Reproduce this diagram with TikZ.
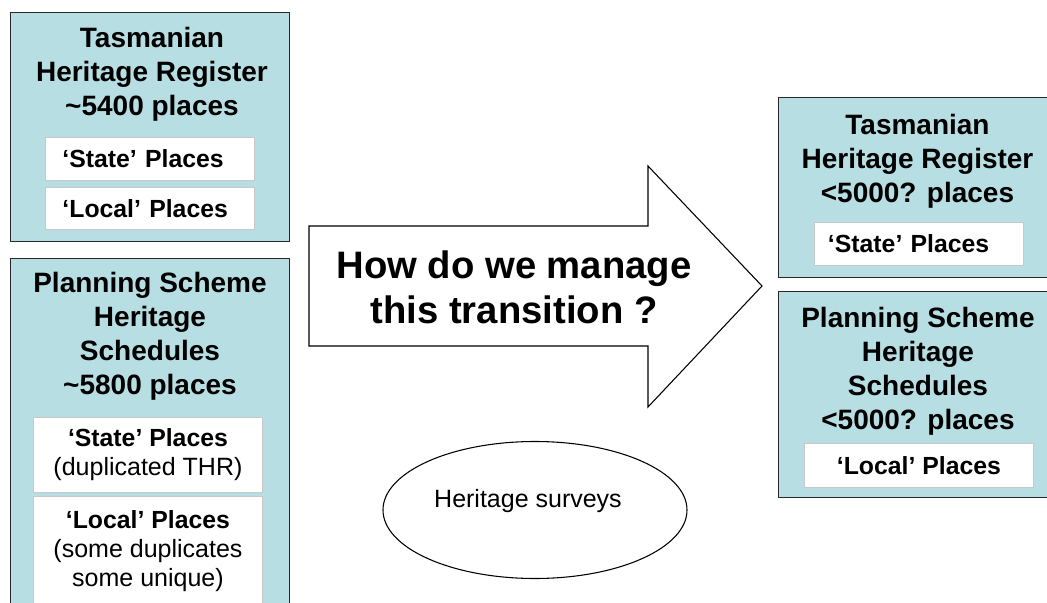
\documentclass[tikz,border=0pt]{standalone}
\usepackage{fontspec}
\setmainfont{Liberation Sans}
\usetikzlibrary{shapes.geometric}
\definecolor{teal1}{RGB}{183,222,226}
\definecolor{edge1}{RGB}{40,40,40}
\definecolor{edge2}{RGB}{200,200,200}
\tikzset{
  wh/.style 2 args={minimum width=#1*0.75pt, minimum height=#2*0.75pt},
  outerbox/.style={draw=edge1, line width=1.1pt, fill=teal1, inner sep=0pt, anchor=north west},
  innerbox/.style={draw=edge2, line width=0.7pt, fill=white, inner sep=0pt, anchor=north west},
  titletext/.style={font=\bfseries\fontsize{21}{25.5}\selectfont, align=center, inner sep=0pt, anchor=north},
  innerbold/.style={font=\bfseries\fontsize{18.6}{21.75}\selectfont},
  regtext/.style={font=\fontsize{18.75}{21.75}\selectfont},
  arrowtext/.style={font=\bfseries\fontsize{28.7}{33.75}\selectfont, align=center, inner sep=0pt, anchor=north},
  thinline/.style={draw=black, line width=0.8pt}
}
\begin{document}
\begin{tikzpicture}[x=0.75pt,y=-0.75pt]
\useasboundingbox (0,0) rectangle (1047,603);
\clip (0,0) rectangle (1047,603);
\fill[white] (0,0) rectangle (1047,603);

% ---- left top: Tasmanian Heritage Register ----
\node[outerbox, wh={279}{229}] (thr1) at (10,12) {};
\node[titletext] (thr1t) at (152,27) {Tasmanian\\Heritage Register\\\textasciitilde5400 places};
\node[innerbox, wh={209}{43}, text width=175*0.75pt, align=left, inner xsep=17*0.75pt, innerbold] (thr1s) at (45,137) {‘State’ Places};
\node[innerbox, wh={209}{42}, text width=175*0.75pt, align=left, inner xsep=17*0.75pt, innerbold] (thr1l) at (45,187) {‘Local’ Places};

% ---- left bottom: Planning Scheme ----
\node[outerbox, wh={279}{360}] (ps1) at (10,258) {};
\node[titletext] (ps1t) at (150,272) {Planning Scheme\\Heritage\\Schedules\\\textasciitilde5800 places};
\node[innerbox, wh={229}{75}, align=center, regtext] (ps1s) at (33,417) {{\bfseries\fontsize{18.6}{21.75}\selectfont ‘State’ Places}\\[0pt](duplicated THR)};
\node[innerbox, wh={229}{110}, align=center, regtext] (ps1l) at (33,496) {{\bfseries\fontsize{18.6}{21.75}\selectfont ‘Local’ Places}\\(some duplicates\\some unique)};

% ---- arrow ----
\draw[thinline, fill=white] (309,226) -- (648,226) -- (648,166) -- (762,286) -- (648,407) -- (648,346) -- (309,346) -- cycle;
\node[arrowtext] (q) at (514,250.5) {How do we manage\\this transition ?};

% ---- right top ----
\node[outerbox, wh={279}{180}] (thr2) at (778,97) {};
\node[titletext] (thr2t) at (917.5,114) {Tasmanian\\Heritage Register\\<5000? places};
\node[innerbox, wh={209}{43}, text width=182*0.75pt, align=left, inner xsep=12*0.75pt, innerbold] (thr2s) at (814,222) {‘State’ Places};

% ---- right bottom ----
\node[outerbox, wh={279}{206}] (ps2) at (778,291) {};
\node[titletext] (ps2t) at (918,307) {Planning Scheme\\Heritage\\Schedules\\<5000? places};
\node[innerbox, wh={229}{44}, align=center, innerbold] (ps2l) at (804,443) {‘Local’ Places};

% ---- ellipse ----
\node[ellipse, thinline, wh={304}{137}, inner sep=0pt, regtext, text height=18*0.75pt, text depth=24*0.75pt] (surv) at (535,510) {Heritage surveys\hspace*{10.5pt}};
\end{tikzpicture}
\end{document}
